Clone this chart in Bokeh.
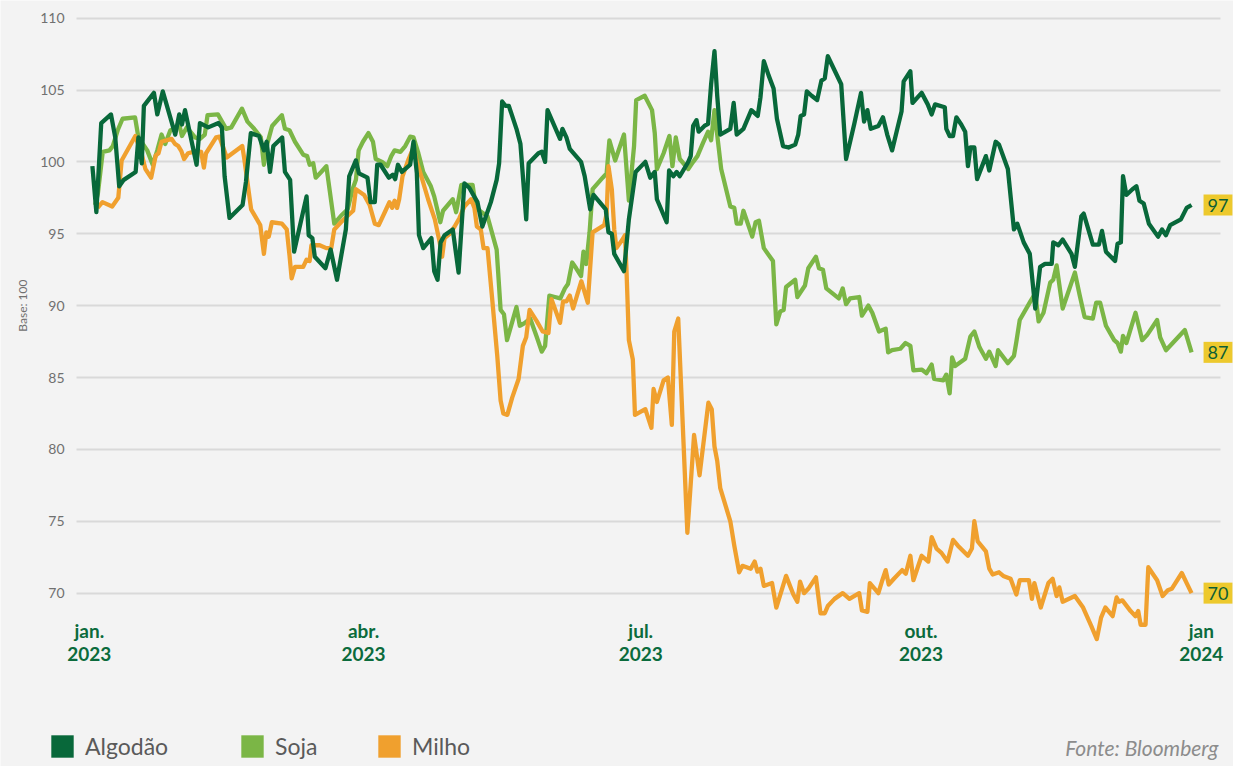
import math
from bokeh.plotting import figure
from bokeh.models import FixedTicker, Label, Legend, LegendItem, Range1d
from bokeh.embed import file_html
from bokeh.resources import INLINE

# dias desde 1 jan 2023
dias_algodao = [1.0, 2.3, 3.9, 7.1, 8.5, 9.8, 11.3, 15.2, 16.1, 17.2,
    17.9, 21.2, 22.3, 24.1, 28.2, 29.5, 30.4, 31.4, 35.2, 36.3,
    39.0, 42.4, 43.5, 44.4, 46.0, 50.3, 51.4, 53.0, 55.7, 57.3,
    58.2, 59.3, 60.4, 63.3, 64.2, 65.9, 67.2, 71.3, 72.0, 73.2,
    74.0, 77.5, 79.2, 81.3, 84.2, 85.3, 87.5, 88.5, 91.3, 92.3,
    93.7, 94.5, 95.6, 98.3, 99.6, 100.4, 101.3, 102.6, 105.3, 106.4,
    107.5, 108.2, 109.6, 112.3, 113.2, 114.3, 115.3, 116.6, 119.3, 121.2,
    123.1, 124.7, 127.4, 129.0, 131.8, 133.7, 134.5, 135.5, 136.6, 137.7,
    140.2, 141.5, 143.4, 144.2, 147.4, 148.5, 149.6, 150.4, 154.5, 155.3,
    156.6, 157.7, 161.4, 162.6, 164.4, 165.5, 169.5, 170.4, 171.5, 172.3,
    175.5, 177.1, 179.3, 182.5, 184.1, 185.6, 186.3, 189.5, 190.3, 191.7,
    192.8, 193.8, 196.6, 197.4, 198.2, 199.3, 200.0, 201.9, 203.1, 204.1,
    205.2, 206.1, 207.1, 208.4, 210.4, 211.5, 212.5, 214.7, 217.3, 219.4,
    220.3, 221.4, 223.0, 224.6, 225.7, 227.7, 229.5, 231.7, 232.7, 233.5,
    234.6, 235.5, 237.1, 238.9, 240.3, 241.4, 242.4, 246.8, 248.4, 251.1,
    253.3, 254.3, 255.4, 256.5, 259.0, 260.5, 261.9, 263.5, 265.1, 266.6,
    267.3, 269.5, 270.2, 273.2, 275.2, 276.5, 277.6, 280.8, 281.3, 282.4,
    283.5, 284.6, 286.2, 287.5, 288.4, 289.2, 290.5, 291.4, 294.3, 295.4,
    297.5, 298.6, 301.5, 303.5, 304.6, 306.7, 308.7, 310.5, 312.1, 313.7,
    315.9, 316.4, 318.1, 319.5, 322.4, 323.5, 325.6, 326.4, 329.4, 331.4,
    332.4, 333.7, 336.7, 337.5, 338.6, 339.3, 340.4, 342.4, 343.7, 344.7,
    346.1, 347.8, 350.8, 352.1, 353.4, 354.8, 358.3, 360.2, 361.8]
algodao = [99.7, 96.5, 102.7, 103.3, 101.7, 98.3, 98.75, 99.3, 101.7, 99.9,
    103.9, 104.8, 103.3, 104.9, 101.9, 103.3, 102.6, 103.6, 99.8, 102.7,
    102.4, 102.7, 102.4, 99.0, 96.1, 97.0, 98.6, 102.0, 101.8, 100.8,
    101.4, 99.3, 101.1, 101.7, 99.3, 98.75, 93.75, 97.6, 94.9, 94.7,
    93.4, 92.6, 93.9, 91.8, 95.3, 99.0, 100.1, 99.2, 98.9, 97.2,
    97.2, 99.8, 99.8, 98.9, 99.1, 98.8, 99.8, 99.3, 99.8, 101.4,
    99.2, 94.9, 94.0, 94.7, 92.4, 91.8, 94.4, 94.9, 95.3, 92.3,
    98.5, 98.2, 97.2, 95.5, 97.2, 98.75, 99.9, 104.2, 103.9, 103.9,
    102.3, 101.25, 96.0, 99.9, 100.6, 100.7, 100.0, 103.6, 101.6, 102.3,
    101.7, 100.9, 100.0, 99.0, 96.7, 97.7, 96.7, 95.1, 95.0, 93.6,
    92.4, 96.0, 99.3, 100.0, 98.9, 99.3, 97.4, 95.8, 99.4, 99.0,
    99.3, 99.0, 100.0, 100.4, 102.5, 102.9, 102.1, 102.5, 102.65, 105.4,
    107.7, 104.6, 101.9, 102.05, 102.3, 104.1, 101.9, 102.3, 103.6, 103.2,
    104.5, 107.0, 106.0, 105.1, 103.0, 101.1, 101.0, 101.2, 101.9, 103.2,
    103.3, 104.9, 104.6, 104.3, 105.65, 105.8, 107.35, 105.4, 100.2, 102.65,
    104.8, 102.8, 103.6, 102.3, 102.5, 103.1, 101.9, 100.8, 102.2, 103.5,
    105.6, 106.3, 104.1, 104.8, 104.0, 103.3, 104.0, 103.8, 102.3, 101.8,
    101.8, 103.1, 102.6, 102.1, 99.7, 101.0, 101.0, 98.8, 100.4, 99.4,
    101.4, 101.2, 99.5, 95.3, 95.7, 94.4, 93.6, 89.8, 92.7, 92.9,
    92.9, 94.4, 94.2, 94.6, 93.6, 92.7, 96.2, 96.4, 94.25, 94.25,
    95.2, 93.75, 93.1, 94.3, 94.4, 99.0, 97.7, 98.1, 98.3, 97.3,
    97.1, 95.7, 94.8, 95.3, 94.9, 95.6, 96.0, 96.8, 97.0]

dias_soja = [1.9, 2.8, 4.4, 6.6, 7.7, 9.3, 10.9, 15.0, 16.1, 17.4,
    19.0, 20.8, 22.3, 23.7, 24.9, 26.6, 28.0, 29.5, 30.4, 32.0,
    34.7, 36.3, 37.9, 38.8, 42.2, 44.9, 46.6, 50.1, 51.9, 54.1,
    56.3, 57.3, 58.4, 60.0, 63.2, 64.2, 65.7, 67.5, 70.2, 71.5,
    72.3, 73.5, 74.3, 76.1, 77.8, 80.4, 82.6, 84.8, 86.4, 87.5,
    88.4, 89.8, 91.6, 93.1, 94.0, 96.1, 97.8, 99.1, 100.2, 102.1,
    103.7, 105.3, 106.4, 108.0, 109.6, 112.1, 113.2, 115.2, 116.1, 117.7,
    119.3, 120.4, 122.1, 125.8, 126.9, 130.7, 133.7, 135.0, 136.1, 137.1,
    140.2, 141.3, 142.6, 144.7, 146.9, 148.5, 149.6, 151.0, 152.8, 154.6,
    156.1, 157.1, 158.5, 159.8, 161.4, 162.2, 163.1, 164.2, 165.2, 168.5,
    169.8, 170.7, 172.6, 175.5, 177.1, 178.8, 179.5, 182.3, 184.7, 185.6,
    186.3, 188.5, 190.4, 191.4, 192.5, 193.8, 196.6, 198.2, 199.6, 201.4,
    203.1, 204.1, 205.2, 206.3, 207.4, 210.4, 211.7, 212.5, 213.8, 214.7,
    217.6, 218.7, 219.8, 221.4, 224.4, 225.5, 226.8, 227.9, 228.7, 231.7,
    232.4, 234.9, 236.0, 238.5, 239.5, 240.8, 241.9, 246.0, 247.3, 248.4,
    249.7, 252.7, 253.6, 255.7, 257.0, 259.2, 261.4, 262.2, 263.5, 266.2,
    267.9, 269.5, 270.5, 273.2, 274.8, 276.5, 277.3, 280.3, 281.3, 282.4,
    283.2, 284.2, 287.5, 289.2, 290.5, 292.2, 294.3, 295.4, 297.5, 298.3,
    301.5, 303.5, 304.3, 305.4, 308.9, 310.5, 311.6, 313.2, 315.4, 316.4,
    317.5, 319.5, 323.5, 325.1, 326.7, 329.4, 330.5, 331.8, 333.7, 336.4,
    337.5, 338.6, 339.3, 340.4, 343.4, 345.6, 347.2, 350.5, 351.5, 353.4,
    359.6, 361.8]
soja = [97.0, 97.8, 100.7, 100.8, 101.1, 102.2, 103.0, 103.1, 101.7, 101.3,
    100.8, 99.8, 100.8, 101.9, 101.25, 102.2, 102.3, 102.6, 101.8, 102.4,
    101.7, 101.6, 101.9, 103.25, 103.3, 102.3, 102.4, 103.7, 102.8, 102.3,
    101.7, 99.8, 101.25, 102.5, 103.25, 102.3, 102.2, 101.4, 100.5, 100.4,
    99.8, 99.9, 98.9, 99.3, 99.7, 95.7, 96.25, 96.7, 98.1, 98.75,
    100.8, 101.4, 102.0, 101.4, 100.2, 100.0, 99.7, 100.4, 100.8, 100.7,
    101.1, 101.75, 101.7, 100.6, 99.3, 98.3, 97.6, 95.8, 96.6, 97.0,
    97.4, 96.5, 98.4, 98.4, 96.8, 96.2, 93.9, 89.7, 89.4, 87.6,
    89.9, 88.6, 88.75, 89.1, 87.8, 86.8, 87.2, 90.7, 90.6, 90.5,
    91.2, 91.5, 93.0, 92.6, 92.05, 93.75, 92.9, 95.1, 98.1, 98.9,
    99.2, 101.5, 100.1, 101.9, 97.3, 101.1, 104.3, 104.6, 103.6, 102.0,
    99.5, 100.6, 101.8, 99.7, 101.7, 100.2, 99.5, 100.0, 100.4, 101.3,
    102.1, 101.5, 103.6, 101.5, 99.5, 96.9, 96.8, 95.7, 95.7, 96.6,
    94.8, 95.8, 95.9, 94.0, 93.1, 88.7, 89.6, 89.7, 91.3, 91.8,
    90.6, 91.4, 92.6, 93.4, 92.6, 92.5, 91.2, 90.5, 91.2, 90.1,
    90.5, 90.6, 89.3, 90.0, 89.5, 88.2, 88.4, 86.75, 86.9, 87.0,
    87.4, 87.2, 85.5, 85.55, 85.3, 85.9, 84.9, 84.8, 85.2, 83.9,
    86.4, 85.8, 86.3, 87.85, 88.2, 87.1, 86.3, 86.8, 85.8, 86.9,
    86.0, 86.5, 87.5, 89.0, 90.3, 90.85, 88.9, 89.5, 91.6, 91.8,
    92.8, 89.8, 92.3, 90.7, 89.2, 89.1, 90.2, 90.2, 88.6, 87.6,
    87.4, 86.8, 87.9, 87.4, 89.5, 87.6, 87.95, 89.0, 87.8, 86.9,
    88.3, 86.75]

dias_milho = [2.7, 4.3, 7.5, 9.5, 10.6, 15.1, 17.1, 18.4, 20.3, 21.8,
    22.7, 23.7, 27.0, 28.1, 29.2, 30.2, 31.1, 32.4, 35.1, 36.7,
    37.6, 38.3, 41.6, 42.7, 45.1, 50.2, 50.8, 53.1, 56.1, 57.3,
    58.1, 58.9, 59.9, 63.2, 64.8, 65.7, 66.4, 67.5, 70.2, 71.3,
    72.3, 72.9, 75.6, 77.8, 79.4, 80.4, 82.6, 84.8, 86.6, 87.5,
    90.2, 92.0, 93.7, 95.0, 97.2, 98.5, 99.4, 100.2, 101.0, 101.7,
    102.8, 104.8, 106.4, 107.5, 109.1, 111.2, 113.4, 115.0, 115.8, 116.6,
    118.3, 119.9, 121.5, 123.1, 125.3, 126.4, 127.2, 128.5, 129.4, 130.7,
    132.3, 133.9, 135.0, 135.9, 137.2, 138.8, 140.9, 142.3, 143.4, 144.5,
    146.9, 148.8, 150.7, 151.7, 154.5, 155.5, 156.6, 157.7, 158.8, 161.5,
    163.6, 165.2, 169.0, 169.8, 170.4, 171.5, 172.3, 173.0, 175.0, 175.8,
    176.3, 177.1, 178.4, 179.1, 182.5, 184.5, 185.2, 186.3, 188.5, 189.9,
    191.2, 192.0, 193.3, 196.3, 198.5, 200.3, 203.2, 204.3, 205.2, 206.1,
    207.1, 210.4, 211.7, 213.3, 214.4, 217.1, 218.4, 219.3, 220.3, 221.4,
    224.1, 225.5, 228.7, 231.1, 232.4, 233.3, 234.6, 236.0, 238.5, 240.0,
    241.4, 242.4, 244.6, 247.3, 249.5, 252.7, 253.6, 255.4, 256.2, 259.0,
    260.3, 261.4, 262.4, 264.1, 266.8, 268.0, 269.5, 270.5, 273.2, 275.4,
    276.5, 278.1, 279.7, 281.7, 283.5, 285.1, 288.4, 289.7, 290.5, 291.6,
    294.3, 295.4, 296.5, 298.6, 300.0, 302.4, 304.3, 305.4, 308.4, 309.4,
    310.2, 312.3, 314.8, 316.2, 317.5, 318.4, 319.5, 323.5, 326.2, 328.9,
    330.7, 332.1, 333.5, 335.9, 337.2, 338.0, 339.1, 341.8, 343.4, 344.3,
    345.1, 346.7, 347.6, 350.5, 352.3, 354.0, 355.3, 358.6, 360.2, 361.8]
milho = [96.8, 97.2, 96.9, 97.5, 100.1, 101.8, 100.6, 99.5, 98.9, 100.45,
    100.6, 101.4, 101.6, 101.25, 101.1, 100.75, 100.2, 100.6, 100.75, 100.7,
    99.6, 100.6, 101.7, 101.75, 100.3, 101.1, 100.3, 96.7, 95.6, 93.6,
    95.1, 94.8, 95.8, 95.7, 95.3, 93.5, 91.9, 92.7, 92.7, 93.2,
    93.1, 94.2, 94.2, 94.0, 94.0, 95.3, 95.8, 96.25, 96.6, 98.1,
    97.7, 97.0, 95.7, 95.6, 96.6, 97.2, 96.8, 97.3, 96.8, 97.4,
    99.0, 100.2, 101.0, 100.0, 98.9, 97.4, 96.0, 94.4, 93.4, 94.7,
    95.0, 95.5, 96.1, 96.9, 97.4, 96.8, 95.5, 95.3, 94.0, 94.0,
    90.3, 86.5, 83.4, 82.5, 82.4, 83.6, 84.9, 87.2, 87.8, 89.7,
    88.9, 88.2, 88.1, 90.45, 88.8, 90.3, 90.3, 90.7, 89.8, 91.7,
    90.2, 95.1, 95.6, 96.4, 99.7, 98.1, 95.3, 94.0, 94.6, 94.9,
    92.6, 87.6, 86.25, 82.4, 82.8, 81.5, 84.2, 83.3, 84.8, 85.0,
    81.7, 88.2, 89.1, 74.2, 81.0, 78.2, 83.25, 82.8, 80.2, 79.2,
    77.3, 75.0, 73.3, 71.45, 71.9, 71.7, 72.2, 71.5, 71.7, 70.5,
    70.7, 69.0, 71.2, 69.9, 69.4, 70.8, 70.0, 70.3, 71.1, 68.6,
    68.6, 69.1, 69.6, 70.0, 69.6, 70.0, 68.8, 68.7, 70.7, 70.0,
    70.9, 71.6, 70.6, 71.0, 71.6, 71.35, 72.6, 70.9, 72.6, 72.2,
    73.9, 73.1, 72.8, 72.2, 73.7, 73.3, 72.6, 73.1, 75.0, 73.6,
    72.9, 71.7, 71.3, 71.45, 71.2, 71.0, 69.9, 70.9, 70.9, 69.6,
    70.7, 69.0, 70.7, 71.0, 69.8, 70.4, 69.4, 69.8, 69.0, 67.7,
    66.8, 68.3, 69.0, 68.4, 69.7, 69.4, 69.5, 68.75, 68.4, 68.75,
    67.8, 67.8, 71.8, 70.9, 69.8, 70.2, 70.3, 71.4, 70.7, 70.0]

tick_dias = [0, 90, 181, 273, 365]
tick_rotulos = ["jan.\n2023", "abr.\n2023", "jul.\n2023", "out.\n2023", "jan\n2024"]
y_ticks = [70, 75, 80, 85, 90, 95, 100, 105, 110]
series = ["Algodão", "Soja", "Milho"]

BG = "#f3f3f3"
C_ALG = "#08683a"
C_SOJA = "#7bb646"
C_MILHO = "#f0a02e"
YELLOW = "#edc92d"
FONT = "Lato"

W, H = 1233, 766
p = figure(width=W, height=H, output_backend="svg", toolbar_location=None,
           x_range=Range1d(-29.165, 375.57), y_range=Range1d(57.94, 111.226),
           min_border_left=0, min_border_right=0, min_border_top=0,
           min_border_bottom=0, background_fill_color=BG,
           border_fill_color=BG, outline_line_color=None)

p.xgrid.visible = False
p.ygrid.ticker = FixedTicker(ticks=y_ticks)
p.ygrid.grid_line_color = "#d9d9d9"
p.ygrid.grid_line_width = 2
p.ygrid.cross_bounds = (-4.2, 371.4)

yax = p.yaxis[0]
yax.ticker = FixedTicker(ticks=y_ticks)
yax.fixed_location = -4.2
yax.axis_line_color = None
yax.major_tick_line_color = None
yax.minor_tick_line_color = None
yax.major_tick_out = 0
yax.major_tick_in = 0
yax.minor_tick_out = 0
yax.major_label_standoff = 12
yax.major_label_text_font = FONT
yax.major_label_text_font_size = "14px"
yax.major_label_text_color = "#707070"

xax = p.xaxis[0]
xax.ticker = FixedTicker(ticks=tick_dias)
xax.major_label_overrides = {d: t for d, t in zip(tick_dias, tick_rotulos)}
xax.fixed_location = 70
xax.axis_line_color = None
xax.major_tick_line_color = None
xax.minor_tick_line_color = None
xax.major_tick_out = 0
xax.major_tick_in = 0
xax.minor_tick_out = 0
xax.major_label_standoff = 26
xax.major_label_text_font = FONT
xax.major_label_text_font_style = "bold"
xax.major_label_text_font_size = "19px"
xax.major_label_text_line_height = 1.0
xax.major_label_text_color = "#0b6b3c"

p.add_layout(Label(x=22, y=90, x_units="screen", y_units="data", text="Base: 100",
                   angle=math.pi / 2, text_align="center", text_baseline="middle",
                   text_font=FONT, text_font_size="12px", text_color="#707070"))

p.line(dias_soja, soja, line_color=C_SOJA, line_width=4.3, line_join="round")
p.line(dias_milho, milho, line_color=C_MILHO, line_width=4.3, line_join="round")
p.line(dias_algodao, algodao, line_color=C_ALG, line_width=4.3, line_join="round")

for dias, vals in [(dias_algodao, algodao), (dias_soja, soja), (dias_milho, milho)]:
    p.add_layout(Label(x=dias[-1], y=vals[-1], text=str(round(vals[-1])),
                       x_offset=12, text_align="left", text_baseline="middle",
                       text_font=FONT, text_font_size="18px", text_color="#0b5e35",
                       background_fill_color=YELLOW, padding=4))

legend_x = [48, 238, 375]
nan = float("nan")
for name, color, lx in zip(series, [C_ALG, C_SOJA, C_MILHO], legend_x):
    r = p.rect(x=[nan], y=[nan], width=1, height=1, fill_color=color, line_color=None)
    lg = Legend(items=[LegendItem(label=name, renderers=[r])], location=(lx, 6),
                orientation="horizontal", glyph_width=28, glyph_height=28,
                label_standoff=9, padding=0, margin=0, border_line_color=None,
                background_fill_alpha=0, label_text_font=FONT,
                label_text_font_size="23px", label_text_color="#5a5a5a")
    p.add_layout(lg)

p.add_layout(Label(x=1218, y=19, x_units="screen", y_units="screen",
                   text="Fonte: Bloomberg", text_align="right", text_baseline="middle",
                   text_font=FONT, text_font_style="italic", text_font_size="21px",
                   text_color="#8c8c8c"))

open("out.html", "w").write(file_html(p, INLINE))
